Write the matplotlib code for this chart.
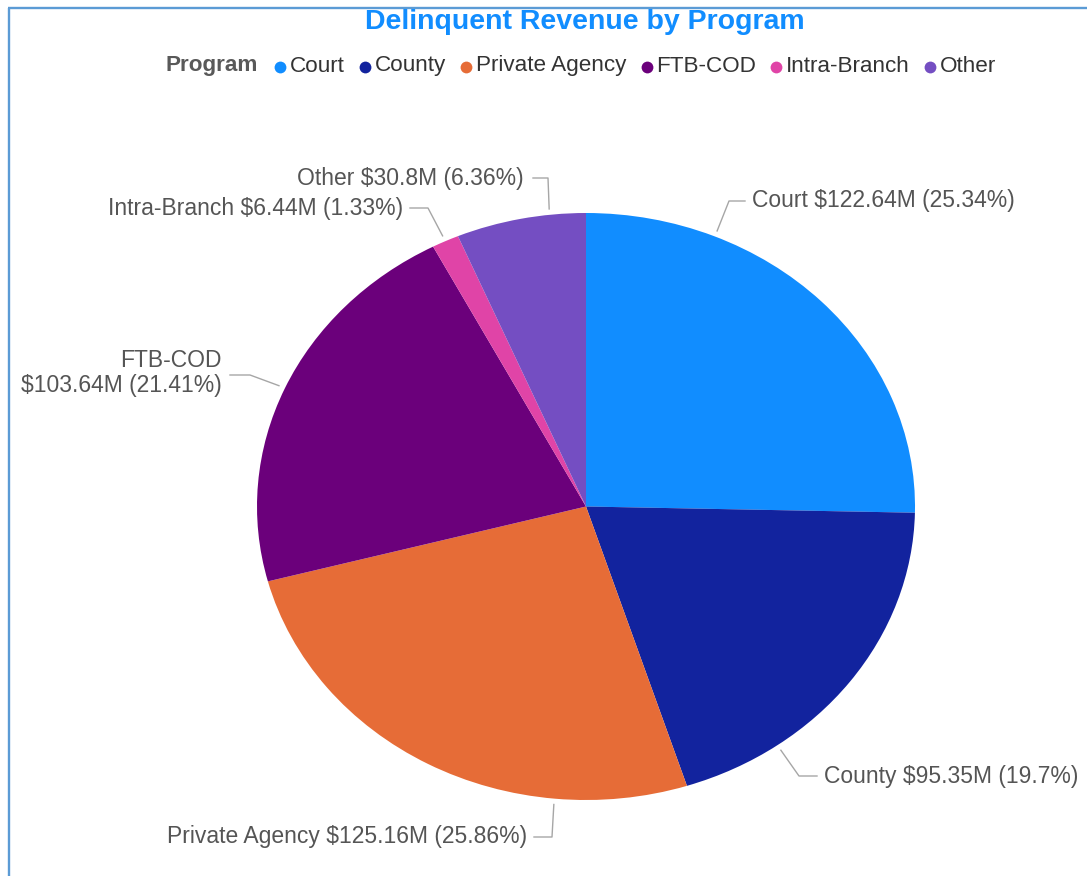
import matplotlib
matplotlib.use("Agg")
import matplotlib.pyplot as plt
import numpy as np

# ---------------- data ----------------
programs = ["Court", "County", "Private Agency", "FTB-COD", "Intra-Branch", "Other"]
values = [122.64, 95.35, 125.16, 103.64, 6.44, 30.8]
colors = ["#118DFF", "#12239E", "#E66C37", "#6B007B", "#E044A7", "#744EC2"]
title = "Delinquent Revenue by Program"
legend_title = "Program"

# ---------------- layout ----------------
W, H = 1087, 876
plt.rcParams['font.family'] = ['Liberation Sans', 'DejaVu Sans']
fig = plt.figure(figsize=(W / 100, H / 100), dpi=100)
fig.patch.set_facecolor("white")

# pie axes (slightly elliptical, as in the reference)
pie_left, pie_right, pie_top, pie_bottom = 257, 915, 213, 800
pie_ax = fig.add_axes([pie_left / W, 1 - pie_bottom / H,
                       (pie_right - pie_left) / W, (pie_bottom - pie_top) / H])
wedges, _ = pie_ax.pie(values, colors=colors, startangle=90, counterclock=False,
                       radius=1, wedgeprops=dict(linewidth=0))
pie_ax.set_aspect('auto')
pie_ax.set_xlim(-1, 1)
pie_ax.set_ylim(-1, 1)
pie_ax.axis('off')

# overlay in pixel coordinates (top-left origin)
ov = fig.add_axes([0, 0, 1, 1], zorder=5)
ov.set_xlim(0, W)
ov.set_ylim(H, 0)
ov.axis('off')

# frame border (top and left visible)
ov.plot([9, 9], [H, 7.5], color="#5B9BD5", lw=1.7, solid_capstyle='butt')
ov.plot([8.2, W], [7.5, 7.5], color="#5B9BD5", lw=1.7, solid_capstyle='butt')

# title
ov.text(585, 22, title, ha='center', va='center', fontsize=20.5, fontweight='bold',
        color="#118DFF")

# legend (manual layout)
fig.canvas.draw()
renderer = fig.canvas.get_renderer()
leg_fs = 16.2
leg_y = 66
items = []
t = ov.text(0, leg_y, legend_title, ha='left', va='center', fontsize=leg_fs,
            fontweight='bold', color="#595959")
items.append(('title', t))
for name, c in zip(programs, colors):
    tt = ov.text(0, leg_y, name, ha='left', va='center', fontsize=leg_fs, color="#333333")
    items.append((c, tt))

def width_px(txt):
    bb = txt.get_window_extent(renderer=renderer)
    return bb.width

gap_title = 22
marker_gap = 10
item_gap = 20
total = 0
for i, (kind, txt) in enumerate(items):
    w = width_px(txt)
    if kind == 'title':
        total += w + gap_title
    else:
        total += marker_gap + w + (item_gap if i < len(items) - 1 else 0)
x = 581 - total / 2
for i, (kind, txt) in enumerate(items):
    w = width_px(txt)
    if kind == 'title':
        txt.set_x(x)
        x += w + gap_title
    else:
        ov.plot([x], [leg_y + 0.5], marker='o', ms=8.5, color=kind, mec='none')
        txt.set_x(x + marker_gap)
        x += marker_gap + w + item_gap

# data labels with leader lines
total_v = sum(values)

def fmt(v):
    return f"{round(v, 2):g}"

label_texts = []
for name, v in zip(programs, values):
    pct = v / total_v * 100
    label_texts.append((name, f"${fmt(v)}M ({fmt(pct)}%)"))

# (anchor angle deg, elbow px, end px, text pos px, ha, two-line)
label_layout = [
    (67.0, (729, 201), (745, 201), (752, 201), 'left', False),
    (-54.5, (799, 776), (817, 776), (824, 776), 'left', False),
    (-95.5, (552, 837), (534, 837), (527, 836), 'right', False),
    (156.2, (250, 375), (230, 375), (222, 373), 'right', True),
    (115.3, (428, 208), (410, 208), (403, 208), 'right', False),
    (96.3, (548, 178), (533, 178), (524, 178), 'right', False),
]

lbl_color = "#555555"
lead_color = "#A6A6A6"
for (name, rest), (ang, elbow, end, tpos, ha, two) in zip(label_texts, label_layout):
    a = np.deg2rad(ang)
    disp = pie_ax.transData.transform((1.02 * np.cos(a), 1.02 * np.sin(a)))
    ax_pt = ov.transData.inverted().transform(disp)
    ov.plot([ax_pt[0], elbow[0], end[0]], [ax_pt[1], elbow[1], end[1]],
            color=lead_color, lw=1.0)
    s = f"{name}\n{rest}" if two else f"{name} {rest}"
    ov.text(tpos[0], tpos[1], s, ha=ha, va='center', fontsize=16.5, color=lbl_color,
            multialignment='right' if two else ha, linespacing=1.1)

fig.savefig("out.png", dpi=100, facecolor="white")
